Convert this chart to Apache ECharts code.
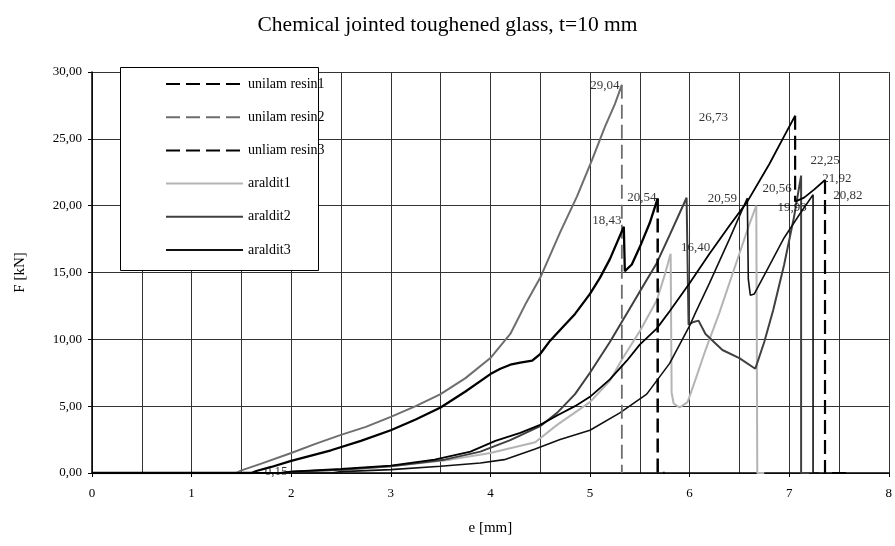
<!DOCTYPE html>
<html><head><meta charset="utf-8">
<script src="https://cdn.jsdelivr.net/npm/echarts@6/dist/echarts.min.js"></script>
<style>html,body{margin:0;padding:0;background:#fff}#c{width:895px;height:546px}</style>
</head><body><div id="c"></div>
<script>
// ---- data (e [mm], F [kN]) ----
const resin1Curve = [[0,0],[1.6,0],[1.65,0.15],[1.8,0.45],[2.0,0.9],[2.2,1.3],[2.4,1.7],[2.7,2.4],[3.0,3.2],[3.25,4.0],[3.5,4.9],[3.75,6.1],[4.0,7.4],[4.1,7.8],[4.2,8.1],[4.3,8.25],[4.42,8.4],[4.5,8.9],[4.6,9.9],[4.7,10.7],[4.85,11.9],[5.0,13.4],[5.1,14.6],[5.2,16.0],[5.34,18.43],[5.35,15.1],[5.42,15.6],[5.5,16.9],[5.6,18.7],[5.68,20.54]];
const resin1Drop = [[5.68,20.54],[5.68,0],[5.75,0]];
const resin2Curve = [[0,0],[1.45,0],[1.5,0.2],[1.7,0.7],[2.0,1.5],[2.25,2.2],[2.5,2.85],[2.75,3.45],[3.0,4.2],[3.25,5.0],[3.5,5.9],[3.75,7.1],[4.0,8.6],[4.2,10.4],[4.35,12.6],[4.5,14.6],[4.7,18.0],[4.87,20.7],[5.02,23.4],[5.15,25.9],[5.25,27.6],[5.32,29.04]];
const resin2Drop = [[5.32,29.04],[5.32,0]];
const resin3CurveA = [[0,0],[1.9,0],[2.0,0.1],[2.5,0.3],[3.0,0.55],[3.44,1.0],[3.8,1.6],[4.05,2.4],[4.3,3.0],[4.5,3.6],[4.67,4.3],[4.85,5.0],[5.0,5.7],[5.2,7.0],[5.37,8.4],[5.5,9.6],[5.67,10.8],[5.8,12.1],[6.0,14.2],[6.2,16.4],[6.4,18.5],[6.58,20.3],[6.8,23.1],[6.95,25.2],[7.06,26.73]];
const resin3DropA = [[7.06,26.73],[7.06,20.3]];
const resin3CurveB = [[7.06,20.3],[7.15,20.6],[7.25,21.2],[7.36,21.92]];
const resin3DropB = [[7.36,21.92],[7.36,0],[7.6,0]];
const araldit1 = [[0,0],[1.9,0],[2.0,0.1],[2.5,0.25],[3.0,0.5],[3.6,1.0],[4.0,1.5],[4.45,2.3],[4.67,3.6],[5.0,5.3],[5.2,6.9],[5.33,8.6],[5.5,10.6],[5.67,12.9],[5.75,14.8],[5.81,16.4],[5.82,6.0],[5.84,5.2],[5.9,4.9],[5.98,5.3],[6.06,7.0],[6.16,9.2],[6.3,12.0],[6.4,14.2],[6.5,16.4],[6.6,18.6],[6.67,20.0],[6.68,0],[6.75,0]];
const araldit2 = [[0,0],[1.9,0],[2.0,0.1],[2.5,0.25],[3.0,0.5],[3.54,1.0],[3.9,1.6],[4.2,2.46],[4.5,3.5],[4.67,4.5],[4.85,5.9],[5.0,7.5],[5.2,9.8],[5.4,12.3],[5.55,14.2],[5.67,15.7],[5.8,17.8],[5.97,20.59],[5.99,11.1],[6.04,11.3],[6.09,11.4],[6.16,10.4],[6.33,9.2],[6.5,8.6],[6.66,7.8],[6.75,9.8],[6.84,12.2],[6.95,15.6],[7.05,19.2],[7.12,22.25],[7.12,0],[7.2,0]];
const araldit3 = [[0,0],[2.4,0],[2.5,0.1],[3.0,0.25],[3.5,0.5],[3.9,0.75],[4.14,1.0],[4.45,1.8],[4.7,2.5],[5.0,3.2],[5.3,4.5],[5.57,5.9],[5.8,8.2],[6.0,11.0],[6.06,12.0],[6.2,14.2],[6.4,17.5],[6.58,20.56],[6.59,14.5],[6.61,13.3],[6.65,13.4],[6.8,15.5],[6.95,17.6],[7.1,19.3],[7.24,20.82],[7.24,0],[7.3,0]];

const labelText = ['29,04','18,43','20,54','26,73','22,25','21,92','20,82','20,59','20,56','19,93','16,40','0,15'];
const labelX    = [5.15, 5.17, 5.52, 6.24, 7.36, 7.48, 7.59, 6.33, 6.88, 7.03, 6.06, 1.85];
const labelY    = [28.96,18.9, 20.6, 26.6, 23.4, 22.0, 20.75,20.5, 21.3, 19.85,16.9, 0.07];

const legendNames = ['unilam resin1','unilam resin2','unliam resin3','araldit1','araldit2','araldit3'];

const SERIF = '"Liberation Serif","DejaVu Serif",serif';
const chart = echarts.init(document.getElementById('c'), null, {renderer:'canvas'});

function line(name, data, color, width, dashed, z) {
  return {name, type:'line', data, symbol:'none', showSymbol:false, animation:false, z: z||2,
    lineStyle:{color, width, type: dashed ? [14,6] : 'solid'}, itemStyle:{color}};
}

const series = [
  line(legendNames[0], resin1Drop, '#000', 2.5, true, 3),
  line(legendNames[1], resin2Drop, '#6e6e6e', 1.8, true, 3),
  line(legendNames[2], resin3DropA, '#000', 2.2, true, 3),
  line(legendNames[2], resin3DropB, '#000', 2.2, true, 3),
  line(legendNames[0], resin1Curve, '#000', 2.3, false, 3),
  line(legendNames[1], resin2Curve, '#6e6e6e', 2, false, 3),
  line(legendNames[2], resin3CurveA, '#000', 1.8, false, 3),
  line(legendNames[2], resin3CurveB, '#000', 1.8, false, 3),
  line(legendNames[3], araldit1, '#b4b4b4', 2, false, 2),
  line(legendNames[4], araldit2, '#404040', 2, false, 2),
  line(legendNames[5], araldit3, '#111', 1.6, false, 2),
  {name:'labels', type:'scatter', symbolSize:0, animation:false, z:5,
   data: labelText.map((t,i)=>({value:[labelX[i], labelY[i]], name:t})),
   label:{show:true, position:'inside', formatter: p => p.name, color:'#000', fontSize:13, fontFamily:SERIF}}
];

chart.setOption({
  backgroundColor:'#fff',
  title:{text:'Chemical jointed toughened glass, t=10 mm', left:'center', top:9,
    textStyle:{fontFamily:SERIF, fontSize:21.5, fontWeight:'normal', color:'#000'}},
  grid:{left:92, right:1, top:72, bottom:73, show:false},
  xAxis:{type:'value', min:0, max:8, interval:1, name:'e [mm]', nameLocation:'middle', nameGap:48,
    nameTextStyle:{fontFamily:SERIF, fontSize:15, color:'#000'},
    axisLine:{show:true, onZero:false, lineStyle:{color:'#000', width:1.5}},
    axisTick:{show:true, length:4, lineStyle:{color:'#000'}},
    axisLabel:{fontFamily:SERIF, fontSize:13, color:'#000', margin:14},
    splitLine:{show:true, lineStyle:{color:'#333', width:1}},
    minorTick:{show:false, splitNumber:2},
    minorSplitLine:{show:true, lineStyle:{color:'#333', width:1}}},
  yAxis:{type:'value', min:0, max:30, interval:5, name:'F [kN]', nameLocation:'middle', nameGap:64,
    nameTextStyle:{fontFamily:SERIF, fontSize:15, color:'#000'},
    axisLine:{show:true, lineStyle:{color:'#000', width:1.5}},
    axisTick:{show:true, length:4, lineStyle:{color:'#000'}},
    axisLabel:{fontFamily:SERIF, fontSize:13, color:'#000', margin:10,
      formatter: v => v.toFixed(2).replace('.', ',')},
    splitLine:{show:true, lineStyle:{color:'#333', width:1}}},
  legend:{data:legendNames, orient:'vertical', left:165, top:77, itemWidth:77, itemHeight:14, itemGap:19.2,
    selectedMode:false, z:20, padding:0, itemStyle:{opacity:0},
    textStyle:{fontFamily:SERIF, fontSize:14, color:'#000'}},
  graphic:[{type:'rect', left:120, top:67, z:15, shape:{width:198, height:203},
    style:{fill:'#fff', stroke:'#000', lineWidth:1}}],
  series
});
</script></body></html>
